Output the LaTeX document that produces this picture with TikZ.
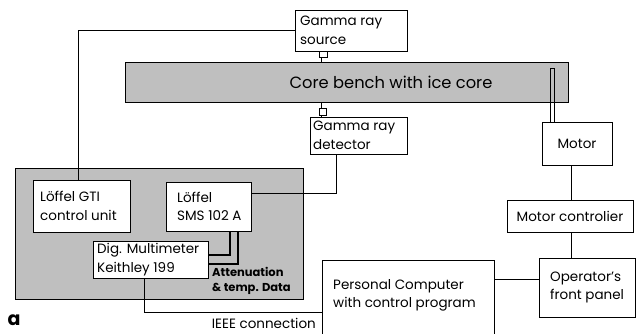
\documentclass[tikz,border=0pt]{standalone}
\usepackage{fontspec}
\setmainfont{Poppins}
\begin{document}
\begin{tikzpicture}[x=1pt,y=-1pt,
  box/.style={draw,line width=0.9pt,fill=white,rectangle,inner sep=0pt,font=\fontsize{13.5}{18.5}\selectfont},
  grayarea/.style={draw,line width=0.9pt,fill=black!25,rectangle,inner sep=0pt},
  conn/.style={line width=0.8pt},
  txt/.style={inner sep=0pt,align=left,font=\fontsize{13.5}{18.5}\selectfont}]
\useasboundingbox (0,0) rectangle (641,333);
% core bench
\node[grayarea,minimum width=443pt,minimum height=40pt] (bench) at (346.5,82) {};
\node[txt,font=\fontsize{16.3}{20}\selectfont] (benchtext) at (391,82) {Core bench with ice core};
% gamma source
\node[box,minimum width=112pt,minimum height=41pt] (src) at (351,30.5) {};
\node[txt,anchor=west] (srctext) at (300,30.5) {Gamma ray\\source};
% detector
\node[box,minimum width=97pt,minimum height=37pt] (det) at (358.5,135.5) {};
\node[txt,anchor=west] (dettext) at (313,135.5) {Gamma ray\\detector};
% stubs
\draw[conn] (319,51) rectangle (327,57);
\draw[conn] (321,57) -- (321,62);
\draw[conn] (319,108) rectangle (326,115);
\draw[conn] (321,102) -- (321,108);
\draw[conn] (321,115) -- (321,117);
% motor
\node[box,minimum width=70pt,minimum height=43pt] (motor) at (577,143.5) {Motor};
\draw[conn,line width=0.7pt] (550,122) -- (550,68) -- (554,68) -- (554,122);
% motor controller
\node[box,minimum width=126pt,minimum height=32pt] (mctrl) at (570,216) {Motor controlier};
% operator
\node[box,minimum width=96pt,minimum height=59pt] (oper) at (587,287.5) {};
\node[txt,anchor=west] (opertext) at (550,287.5) {Operator's\\front panel};
% PC
\draw[conn,line width=0.9pt] (322,340) -- (322,260) -- (494,260) -- (494,340);
\coordinate (pcW) at (322,312);
\coordinate (pcE) at (494,279);
\node[txt,anchor=west] (pctext) at (333,295.5) {Personal Computer\\with control program};
% gray area
\node[grayarea,minimum width=288pt,minimum height=131pt] (lab) at (159,233.5) {};
\node[box,minimum width=97pt,minimum height=52pt] (gti) at (81.5,206) {};
\node[txt,anchor=west] (gtitext) at (40,206) {Löffel GTI\\control unit};
\node[box,minimum width=85pt,minimum height=49pt] (sms) at (208.5,206.5) {};
\node[txt,anchor=west] (smstext) at (177,206.5) {Löffel\\SMS 102 A};
\node[box,minimum width=115pt,minimum height=37pt] (dmm) at (150.5,259.5) {};
\node[txt,anchor=west] (dmmtext) at (97,259.5) {Dig. Multimeter\\Keithley 199};
\node[txt,anchor=west,font=\fontsize{11.5}{14.5}\selectfont\bfseries] (atten) at (212,281) {Attenuation\\\& temp. Data};
% connectors
\draw[conn] ([xshift=-3.5pt]gti.north) |- (src.west);
\draw[conn] (det.south -| 336,0) |- (sms.east |- 0,193);
\draw[conn,line width=1.5pt] (sms.south -| 230,0) |- (dmm.east |- 0,255);
\draw[conn,line width=1.5pt] (sms.south -| 238,0) |- (dmm.east |- 0,264);
\draw[conn] (dmm.south -| 144,0) |- (pcW);
\draw[conn] (pcE) -- (oper.west |- pcE);
\draw[conn] (motor.south -| 571,0) -- (mctrl.north -| 571,0);
\draw[conn] (mctrl.south -| 571,0) -- (oper.north -| 571,0);
\node[txt,anchor=east] (ieee) at (316,323.5) {IEEE connection};
\node[inner sep=0pt,font=\fontsize{19}{20}\selectfont\bfseries] (lbl) at (14,320) {a};
\end{tikzpicture}
\end{document}
